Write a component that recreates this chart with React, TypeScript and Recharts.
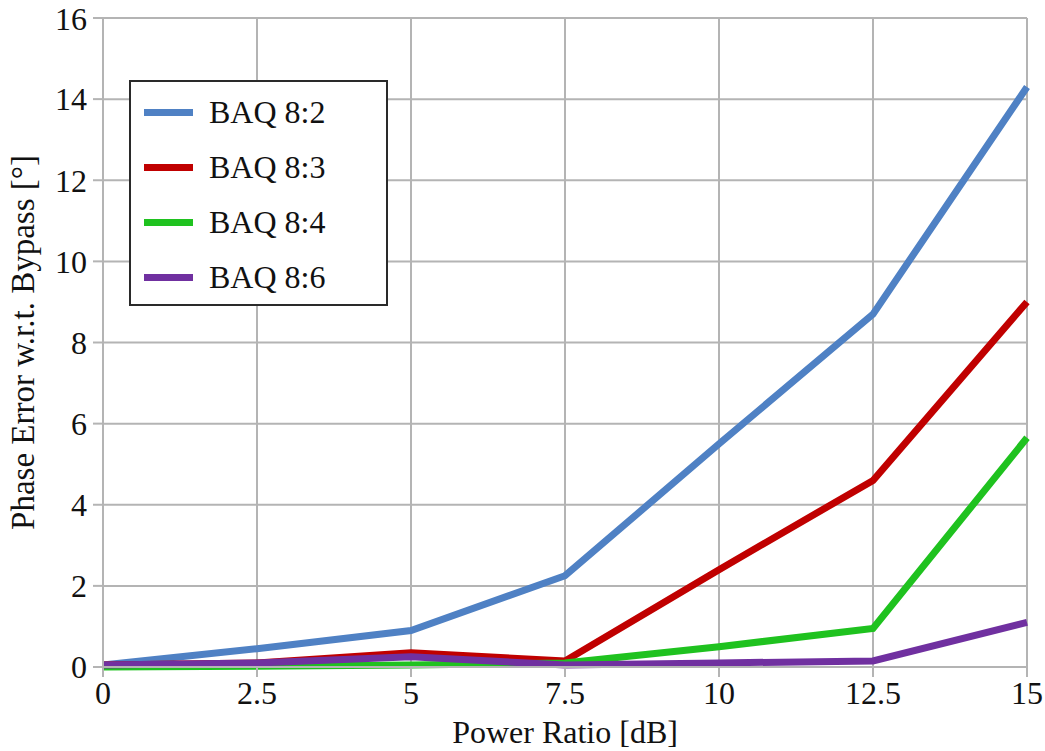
import { LineChart, Line, XAxis, YAxis, CartesianGrid } from 'recharts'

const powerRatio = [0, 2.5, 5, 7.5, 10, 12.5, 15]
const baq82 = [0.05, 0.45, 0.9, 2.25, 5.5, 8.7, 14.3]
const baq83 = [0.05, 0.1, 0.35, 0.15, 2.4, 4.6, 9.0]
const baq84 = [0.0, 0.02, 0.05, 0.1, 0.5, 0.95, 5.65]
const baq86 = [0.05, 0.1, 0.25, 0.05, 0.1, 0.15, 1.1]
const yTicks = [0, 2, 4, 6, 8, 10, 12, 14, 16]

const SERIES = [
  { key: 'baq82', name: 'BAQ 8:2', color: '#4f81c4' },
  { key: 'baq83', name: 'BAQ 8:3', color: '#c00000' },
  { key: 'baq84', name: 'BAQ 8:4', color: '#1fc21f' },
  { key: 'baq86', name: 'BAQ 8:6', color: '#7030a0' },
]

const data = powerRatio.map((x, i) => ({
  x,
  baq82: baq82[i],
  baq83: baq83[i],
  baq84: baq84[i],
  baq86: baq86[i],
}))

const FONT = '"Liberation Serif", "Times New Roman", serif'
const GRID = '#b4b4b4'

// legend box drawn over the plot, top-left like the original
function BoxLegend() {
  return (
    <div
      style={{
        position: 'absolute',
        left: 129,
        top: 80,
        width: 255,
        height: 222,
        border: '2px solid #2a2a2a',
        background: '#fff',
        fontFamily: FONT,
        fontSize: 32,
        color: '#111',
      }}
    >
      {SERIES.map((s, i) => (
        <div
          key={s.key}
          style={{ position: 'absolute', left: 0, top: 12 + i * 55, height: 36, display: 'flex', alignItems: 'center' }}
        >
          <div style={{ marginLeft: 13, width: 49, height: 7, background: s.color }} />
          <span style={{ marginLeft: 16, lineHeight: '36px', whiteSpace: 'nowrap' }}>{s.name}</span>
        </div>
      ))}
    </div>
  )
}

export default function App() {
  const tickStyle = { fontSize: 32, fill: '#111', fontFamily: FONT }
  return (
    <div style={{ position: 'absolute', left: 0, top: 0, width: 1045, height: 751, background: '#fff' }}>
      <LineChart width={1045} height={751} data={data} margin={{ top: 18, right: 18, bottom: 0, left: 0 }}>
        <CartesianGrid stroke={GRID} strokeWidth={2} />
        <XAxis
          dataKey="x"
          type="number"
          domain={[0, 15]}
          ticks={powerRatio}
          height={84}
          stroke={GRID}
          strokeWidth={2}
          tickSize={10}
          tickMargin={4}
          tick={tickStyle}
          label={{
            value: 'Power Ratio [dB]',
            position: 'insideBottom',
            offset: 8,
            style: { fontSize: 32, fill: '#111', fontFamily: FONT },
          }}
        />
        <YAxis
          type="number"
          domain={[0, 16]}
          ticks={yTicks}
          width={103}
          stroke={GRID}
          strokeWidth={2}
          tickSize={10}
          tickMargin={6}
          tick={tickStyle}
          label={{
            value: 'Phase Error w.r.t. Bypass [°]',
            angle: -90,
            position: 'insideLeft',
            offset: 22,
            style: { textAnchor: 'middle', fontSize: 33, fill: '#111', fontFamily: FONT },
          }}
        />
        {SERIES.map((s) => (
          <Line
            key={s.key}
            type="linear"
            dataKey={s.key}
            name={s.name}
            stroke={s.color}
            strokeWidth={7}
            dot={false}
            isAnimationActive={false}
          />
        ))}
      </LineChart>
      <BoxLegend />
    </div>
  )
}
